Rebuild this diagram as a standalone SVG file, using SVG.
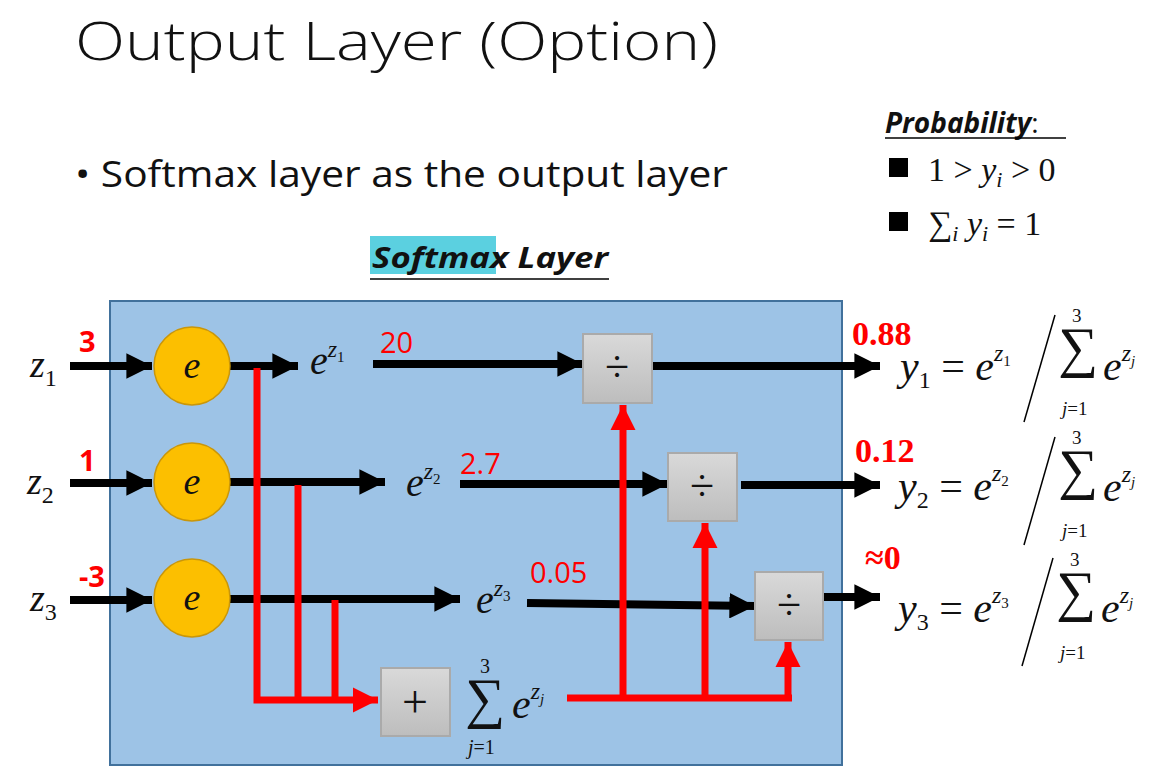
<svg xmlns="http://www.w3.org/2000/svg" width="1166" height="773" viewBox="0 0 1166 773">
<defs>
<marker id="ab" viewBox="0 0 10 10" refX="10" refY="5" markerWidth="3.2" markerHeight="3.2" orient="auto" markerUnits="strokeWidth"><path d="M0,0L10,5L0,10z" fill="#000"/></marker>
<marker id="ar" viewBox="0 0 10 10" refX="10" refY="5" markerWidth="3.6" markerHeight="3.6" orient="auto" markerUnits="strokeWidth"><path d="M0,0L10,5L0,10z" fill="#f00"/></marker>
<linearGradient id="g" x1="0" y1="0" x2="0" y2="1"><stop offset="0" stop-color="#d9d9d9"/><stop offset="1" stop-color="#bdbdbd"/></linearGradient>
</defs>
<style>
.bk{stroke:#000;stroke-width:8;fill:none}
.rd{stroke:#f00;stroke-width:7;fill:none}
.m{font-family:"Liberation Serif",serif;font-style:italic;fill:#111}
.mr{font-family:"Liberation Serif",serif;font-style:normal;fill:#111}
.rn{font-family:"Open Sans","Liberation Sans",sans-serif;fill:#f00}
.rb{font-family:"Liberation Serif",serif;font-weight:bold;fill:#f00;font-size:34px}
.box{fill:url(#g);stroke:#aaa;stroke-width:2}
.node{fill:#fcbf00;stroke:#c9960a;stroke-width:1.5}
.sans{font-family:"Open Sans","Liberation Sans",sans-serif;fill:#111}
.sig{font-family:"Liberation Serif",serif;fill:#111;font-size:56px}
</style>
<rect width="1166" height="773" fill="#fff"/>
<text x="75" y="60" class="sans" font-size="54" font-weight="300" textLength="643" lengthAdjust="spacingAndGlyphs">Output Layer (Option)</text>
<text x="75" y="187" class="sans" font-size="36" textLength="653" lengthAdjust="spacingAndGlyphs">• Softmax layer as the output layer</text>
<rect x="370" y="236" width="126" height="38" fill="#5bd0e0"/>
<text x="372" y="268" class="sans" font-size="29" font-weight="bold" font-style="italic" textLength="236" lengthAdjust="spacingAndGlyphs">Softmax Layer</text>
<line x1="370" y1="279" x2="609" y2="279" stroke="#000" stroke-width="1.5"/>
<text x="885" y="133" class="sans" font-size="28" font-weight="bold" font-style="italic">Probability<tspan font-weight="normal" font-style="normal">:</tspan></text>
<line x1="885" y1="138" x2="1066" y2="138" stroke="#000" stroke-width="1.5"/>
<rect x="889" y="158" width="19" height="19" fill="#000"/>
<text x="928" y="181" class="mr" font-size="34">1 &gt; <tspan class="m">y</tspan><tspan class="m" font-size="22" dy="6">i</tspan><tspan dy="-6"> &gt; 0</tspan></text>
<rect x="889" y="212" width="19" height="19" fill="#000"/>
<text x="928" y="235" class="mr" font-size="34">∑<tspan class="m" font-size="22" dy="6">i</tspan><tspan class="m" dy="-6"> y</tspan><tspan class="m" font-size="22" dy="6">i</tspan><tspan dy="-6"> = 1</tspan></text>

<rect x="110" y="301" width="732" height="464" fill="#9dc3e6" stroke="#41719c" stroke-width="2"/>

<g id="connectors">
<line class="bk" x1="70" y1="366" x2="152" y2="366" marker-end="url(#ab)"/>
<line class="bk" x1="70" y1="483" x2="152" y2="483" marker-end="url(#ab)"/>
<line class="bk" x1="70" y1="600" x2="152" y2="600" marker-end="url(#ab)"/>
<line class="bk" x1="230" y1="366" x2="298" y2="366" marker-end="url(#ab)"/>
<line class="bk" x1="230" y1="482" x2="385" y2="482" marker-end="url(#ab)"/>
<line class="bk" x1="230" y1="599" x2="460" y2="599" marker-end="url(#ab)"/>
<line class="bk" x1="373" y1="364" x2="583" y2="364" marker-end="url(#ab)"/>
<line class="bk" x1="460" y1="484" x2="668" y2="484" marker-end="url(#ab)"/>
<line class="bk" x1="527" y1="603" x2="755" y2="606" marker-end="url(#ab)"/>
<line class="bk" x1="652" y1="366" x2="880" y2="366" marker-end="url(#ab)"/>
<line class="bk" x1="741" y1="485" x2="880" y2="485" marker-end="url(#ab)"/>
<line class="bk" x1="823" y1="597" x2="880" y2="597" marker-end="url(#ab)"/>
<polyline class="rd" points="257,368 257,700 378,700" marker-end="url(#ar)"/>
<line class="rd" x1="298" y1="485" x2="298" y2="700"/>
<line class="rd" x1="335" y1="600" x2="335" y2="700"/>
<line class="rd" x1="567" y1="698" x2="792" y2="698"/>
<line class="rd" x1="623" y1="698" x2="623" y2="405" marker-end="url(#ar)"/>
<line class="rd" x1="705" y1="698" x2="705" y2="523" marker-end="url(#ar)"/>
<polyline class="rd" points="788,698 788,642" marker-end="url(#ar)"/>
</g>

<g id="n1"><ellipse class="node" cx="192" cy="366" rx="38" ry="39"/><text x="192" y="378" class="m" font-size="38" text-anchor="middle">e</text></g>
<g id="n2"><ellipse class="node" cx="192" cy="482" rx="38" ry="39"/><text x="192" y="494" class="m" font-size="38" text-anchor="middle">e</text></g>
<g id="n3"><ellipse class="node" cx="192" cy="598" rx="38" ry="39"/><text x="192" y="610" class="m" font-size="38" text-anchor="middle">e</text></g>
<g id="d1"><rect class="box" x="583" y="334" width="69" height="69"/><text x="617" y="381" class="mr" font-size="44" text-anchor="middle">÷</text></g>
<g id="d2"><rect class="box" x="668" y="453" width="69" height="68"/><text x="702" y="500" class="mr" font-size="44" text-anchor="middle">÷</text></g>
<g id="d3"><rect class="box" x="755" y="572" width="68" height="68"/><text x="789" y="619" class="mr" font-size="44" text-anchor="middle">÷</text></g>
<g id="plus"><rect class="box" x="381" y="668" width="69" height="68"/><text x="415" y="717" class="mr" font-size="46" text-anchor="middle">+</text></g>

<g id="labels">
<text x="30" y="377" class="m" font-size="38">z<tspan class="mr" font-size="24" dy="9">1</tspan></text>
<text x="27" y="494" class="m" font-size="38">z<tspan class="mr" font-size="24" dy="9">2</tspan></text>
<text x="30" y="611" class="m" font-size="38">z<tspan class="mr" font-size="24" dy="9">3</tspan></text>
<text x="79" y="352" class="rn" font-size="29" font-weight="bold">3</text>
<text x="79" y="471" class="rn" font-size="29" font-weight="bold">1</text>
<text x="79" y="587" class="rn" font-size="29" font-weight="bold">-3</text>
<text x="310" y="374" class="m" font-size="40">e<tspan font-size="24" dy="-17">z</tspan><tspan class="mr" font-size="15" dy="5">1</tspan></text>
<text x="406" y="496" class="m" font-size="40">e<tspan font-size="24" dy="-17">z</tspan><tspan class="mr" font-size="15" dy="5">2</tspan></text>
<text x="476" y="613" class="m" font-size="40">e<tspan font-size="24" dy="-17">z</tspan><tspan class="mr" font-size="15" dy="5">3</tspan></text>
<text x="380" y="353" class="rn" font-size="29">20</text>
<text x="460" y="474" class="rn" font-size="29">2.7</text>
<text x="530" y="583" class="rn" font-size="29">0.05</text>
<text x="465" y="717" class="sig">∑</text>
<text x="480" y="673" class="mr" font-size="20">3</text>
<text x="468" y="754" class="mr" font-size="20"><tspan class="m">j</tspan>=1</text>
<text x="512" y="718" class="m" font-size="42">e<tspan font-size="24" dy="-19">z</tspan><tspan font-size="15" dy="5">j</tspan></text>
<text x="852" y="345" class="rb">0.88</text>
<text x="855" y="462" class="rb">0.12</text>
<text x="865" y="569" class="rb">≈0</text>
</g>

<g id="eq1">
<text x="900" y="380" class="m" font-size="42">y<tspan class="mr" font-size="24" dy="8">1</tspan><tspan class="mr" dy="-8"> = </tspan>e<tspan font-size="24" dy="-19">z</tspan><tspan class="mr" font-size="15" dy="5">1</tspan></text>
<line x1="1024" y1="422" x2="1055" y2="315" stroke="#000" stroke-width="1.5"/>
<text x="1058" y="366" class="sig">∑</text>
<text x="1072" y="322" class="mr" font-size="19">3</text>
<text x="1062" y="415" class="mr" font-size="19"><tspan class="m">j</tspan>=1</text>
<text x="1103" y="380" class="m" font-size="42">e<tspan font-size="24" dy="-19">z</tspan><tspan font-size="15" dy="5">j</tspan></text>
</g>
<g id="eq2">
<text x="898" y="500" class="m" font-size="42">y<tspan class="mr" font-size="24" dy="8">2</tspan><tspan class="mr" dy="-8"> = </tspan>e<tspan font-size="24" dy="-19">z</tspan><tspan class="mr" font-size="15" dy="5">2</tspan></text>
<line x1="1024" y1="545" x2="1055" y2="437" stroke="#000" stroke-width="1.5"/>
<text x="1058" y="488" class="sig">∑</text>
<text x="1072" y="444" class="mr" font-size="19">3</text>
<text x="1062" y="537" class="mr" font-size="19"><tspan class="m">j</tspan>=1</text>
<text x="1103" y="501" class="m" font-size="42">e<tspan font-size="24" dy="-19">z</tspan><tspan font-size="15" dy="5">j</tspan></text>
</g>
<g id="eq3">
<text x="898" y="622" class="m" font-size="42">y<tspan class="mr" font-size="24" dy="8">3</tspan><tspan class="mr" dy="-8"> = </tspan>e<tspan font-size="24" dy="-19">z</tspan><tspan class="mr" font-size="15" dy="5">3</tspan></text>
<line x1="1022" y1="666" x2="1053" y2="558" stroke="#000" stroke-width="1.5"/>
<text x="1056" y="610" class="sig">∑</text>
<text x="1070" y="566" class="mr" font-size="19">3</text>
<text x="1060" y="659" class="mr" font-size="19"><tspan class="m">j</tspan>=1</text>
<text x="1101" y="622" class="m" font-size="42">e<tspan font-size="24" dy="-19">z</tspan><tspan font-size="15" dy="5">j</tspan></text>
</g>
</svg>
